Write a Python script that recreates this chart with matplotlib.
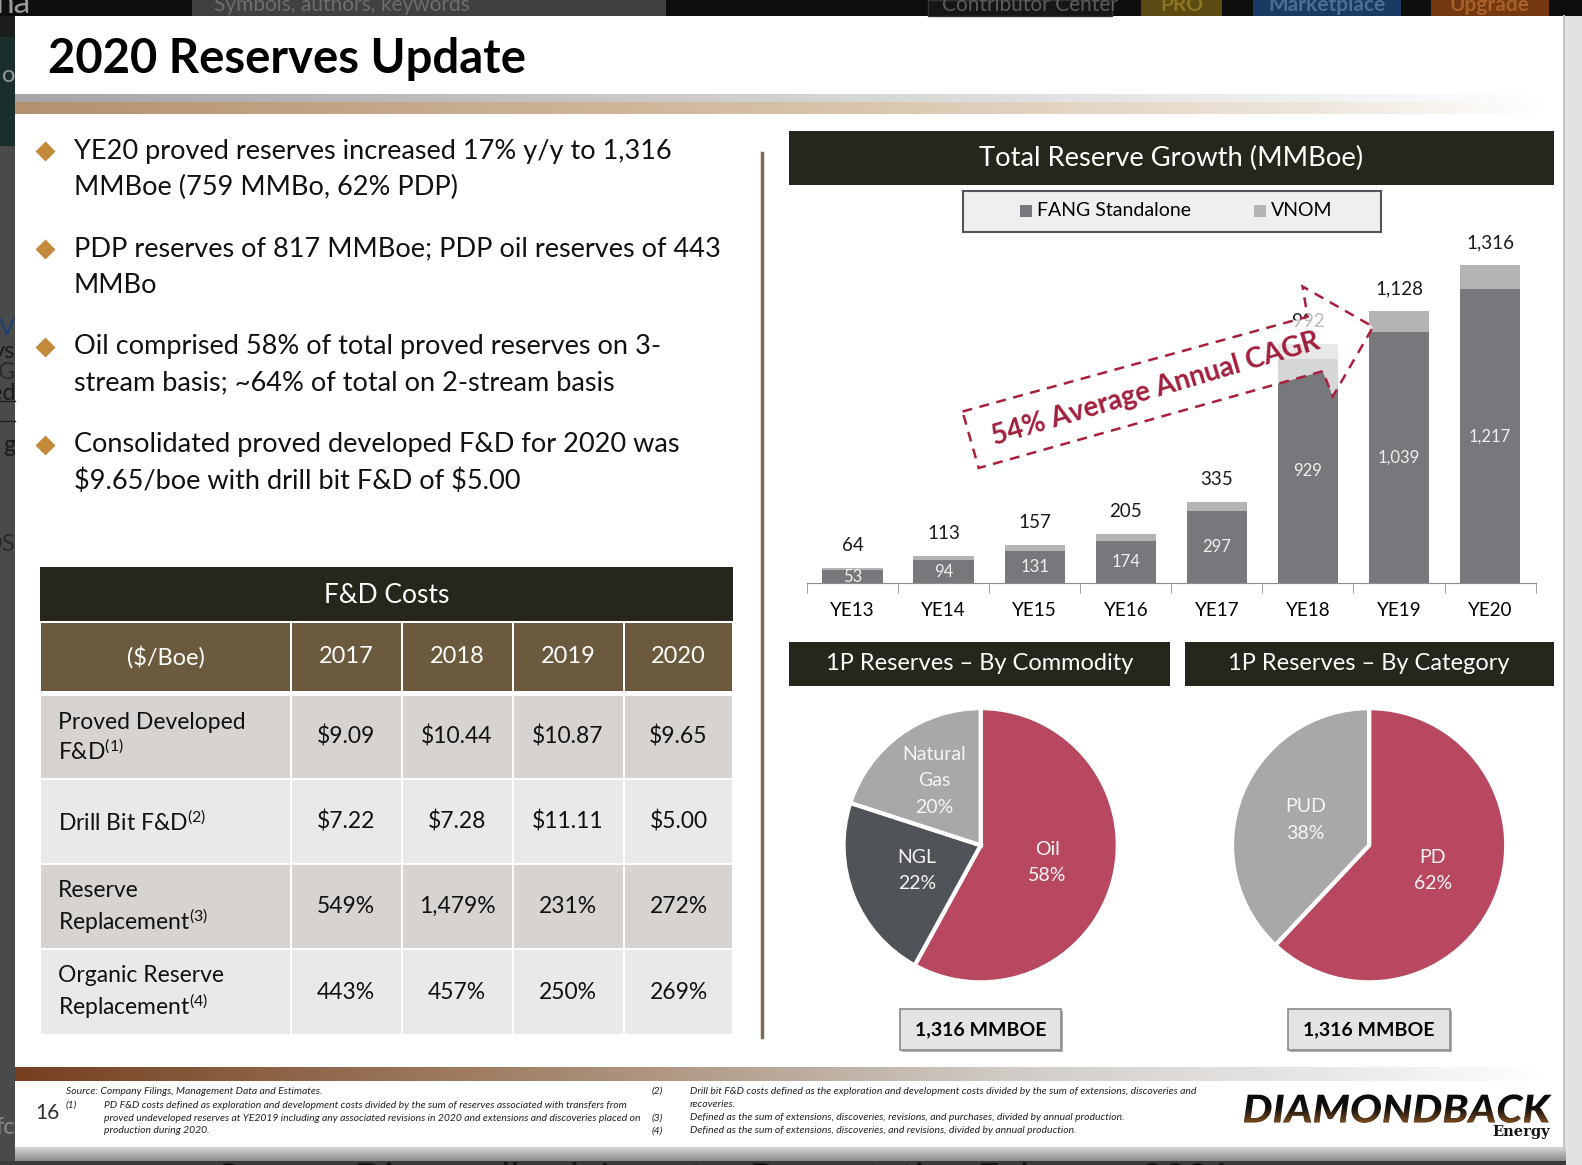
import numpy as np
import matplotlib.pyplot as plt
from matplotlib.patches import Rectangle, Polygon, PathPatch
from matplotlib.textpath import TextPath
from matplotlib.font_manager import FontProperties
from matplotlib.transforms import Affine2D

plt.rcParams['font.family'] = ['Lato', 'DejaVu Sans']
plt.rcParams['mathtext.fontset'] = 'custom'
plt.rcParams['mathtext.rm'] = 'Lato'
plt.rcParams['mathtext.it'] = 'Lato:italic'
plt.rcParams['mathtext.bf'] = 'Lato:bold'

# ---- data ----
years = ['YE13', 'YE14', 'YE15', 'YE16', 'YE17', 'YE18', 'YE19', 'YE20']
fang = [53, 94, 131, 174, 297, 929, 1039, 1217]
total = [64, 113, 157, 205, 335, 992, 1128, 1316]
vnom = [t - f for t, f in zip(total, fang)]
cagr_label = '54% Average Annual CAGR'

commodity = ['Oil', 'NGL', 'Natural\nGas']
commodity_pct = [58, 22, 20]
category = ['PD', 'PUD']
category_pct = [62, 38]
total_mmboe = 1316

fd_years = ['2017', '2018', '2019', '2020']
fd_rows = ['Proved Developed\nF&D$^{(1)}$', 'Drill Bit F&D$^{(2)}$',
           'Reserve\nReplacement$^{(3)}$', 'Organic Reserve\nReplacement$^{(4)}$']
pd_fd = [9.09, 10.44, 10.87, 9.65]
drill_bit_fd = [7.22, 7.28, 11.11, 5.00]
reserve_repl = [549, 1479, 231, 272]
organic_repl = [443, 457, 250, 269]

bullets = [
    ('YE20 proved reserves increased 17% y/y to 1,316', 'MMBoe (759 MMBo, 62% PDP)'),
    ('PDP reserves of 817 MMBoe; PDP oil reserves of 443', 'MMBo'),
    ('Oil comprised 58% of total proved reserves on 3-', 'stream basis; ~64% of total on 2-stream basis'),
    ('Consolidated proved developed F&D for 2020 was', r'\$9.65/boe with drill bit F&D of \$5.00'),
]

notes_left = [
    'PD F&D costs defined as exploration and development costs divided by the sum of reserves associated with transfers from',
    'proved undeveloped reserves at YE2019 including any associated revisions in 2020 and extensions and discoveries placed on',
    'production during 2020.',
]
notes_right = [
    'Drill bit F&D costs defined as the exploration and development costs divided by the sum of extensions, discoveries and',
    'recoveries.',
    'Defined as the sum of extensions, discoveries, revisions, and purchases, divided by annual production.',
    'Defined as the sum of extensions, discoveries, and revisions, divided by annual production.',
]

# ---- canvas (coordinates in reference pixels) ----
W, H = 1568, 1155
fig = plt.figure(figsize=(15.82, 11.65), dpi=100)
bg = fig.add_axes([0, 0, 1, 1])
bg.axis('off')


def inset(x0, y0, x1, y1, **kw):
    return fig.add_axes([x0 / W, 1 - y1 / H, (x1 - x0) / W, (y1 - y0) / H], **kw)


def box(x0, y0, x1, y1, color, ax=bg, **kw):
    ax.add_patch(Rectangle((x0, y0), x1 - x0, y1 - y0, facecolor=color, **kw))


def grad(x0, y0, x1, y1, stops, vertical=False):
    t = np.linspace(0, 1, 300)
    img = np.zeros((1, 300, 3))
    for c in range(3):
        img[0, :, c] = np.interp(t, [s[0] for s in stops], [s[1][c] for s in stops]) / 255
    if vertical:
        img = img.transpose(1, 0, 2)
    bg.imshow(img, extent=(x0, x1, y1, y0), aspect='auto', interpolation='bilinear', zorder=1)


# screen frame around the slide
box(0, 0, W, 16, '#0e0e0e')
box(190, 0, 660, 16, '#404040')
box(920, 0, 1102, 16, '#161616', edgecolor='#333333', lw=1)
box(1131, 0, 1211, 16, '#5b4a12')
box(1242, 0, 1389, 16, '#1b3a63')
box(1418, 0, 1535, 16, '#73380f')
box(0, 16, 15, 37, '#1c1c1c')
box(0, 37, 15, 145, '#1a2e2c')
box(0, 145, 15, H, '#4a4a4a')
bg.plot([0, 15], [398, 398], color='#222222', lw=1)
bg.plot([0, 15], [417, 417], color='#222222', lw=1)
box(1550, 16, W, H, '#e2e2e2')
bg.plot([1550, 1550], [16, 1138], color='#c4c4c4', lw=1.5)
grad(15, 1138, 1552, 1151, [(0, (215, 215, 215)), (1, (140, 140, 140))], vertical=True)
box(0, 1151, 1552, H, '#3a3a3a')

ts = inset(0, 0, W, 16)
ts.set_xlim(0, W); ts.set_ylim(16, 0); ts.axis('off')
for x, s, c, ha in [(212, 'Symbols, authors, keywords', '#6e6e6e', 'left'),
                    (934, 'Contributor Center', '#5c5c5c', 'left'),
                    (1171, 'PRO', '#8c7622', 'center'),
                    (1315, 'Marketplace', '#4c6d96', 'center'),
                    (1476, 'Upgrade', '#a8602a', 'center')]:
    ts.text(x, 11, s, color=c, fontsize=15, ha=ha, va='baseline', clip_on=True,
            fontweight='normal' if ha == 'left' else 'bold')
ts.text(-4, 13, 'na', color='#9a9a9a', fontsize=24, va='baseline', clip_on=True)

ls = inset(0, 16, 15, H)
ls.set_xlim(0, 15); ls.set_ylim(H, 16); ls.axis('off')
for y, s, c in [(75, 'o', '#9a9a9a'), (326, 'V', '#1c3f7a'), (348, 'ys', '#1a1a1a'),
                (369, 'G', '#2a2a2a'), (390, 'ed', '#1a1a1a'), (442, 'g', '#1a1a1a'),
                (540, 'DS', '#2a2a2a'), (1118, 'fc', '#8a8a8a')]:
    ls.text(15, y, s, color=c, fontsize=17, ha='right', va='center', clip_on=True)

bs = inset(0, 1151, 1552, H)
bs.set_xlim(0, 1552); bs.set_ylim(H, 1151); bs.axis('off')
bs.text(215, 1152, 'Source: Diamondback Investor Presentation February 2021', color='#151515',
        fontsize=28, va='top', clip_on=True)

# title and header band
bg.text(48, 58, '2020 Reserves Update', fontsize=34, fontweight='bold', color='black', va='center')
grad(15, 94, 1530, 102, [(0, (165, 165, 165)), (0.6, (218, 218, 218)), (1, (255, 255, 255))])
grad(15, 102, 1530, 113, [(0, (180, 145, 110)), (0.5, (214, 192, 165)), (0.85, (238, 230, 220)),
                          (1, (255, 255, 255))])

# bullets
for i, (l1, l2) in enumerate(bullets):
    y = 150 + i * 97
    bg.plot(45, y, marker='D', ms=10, color='#c48a3c', mec='none')
    bg.text(73, y, l1, fontsize=19.5, va='center', color='#111111')
    bg.text(73, y + 36, l2, fontsize=19.5, va='center', color='#111111')

bg.plot([755, 755], [152, 1028], color='#7b6d5a', lw=2.5)

# F&D cost table
col_x = [40, 288, 398, 508, 618, 727]
row_y = [(690, 771), (773, 856), (858, 940), (942, 1025)]
row_colors = ['#d6d3d0', '#ebe9e7', '#d6d3d0', '#ebe9e7']
row_vals = [[f'\\${v:.2f}' for v in pd_fd], [f'\\${v:.2f}' for v in drill_bit_fd],
            [f'{v:,}%' for v in reserve_repl], [f'{v:,}%' for v in organic_repl]]

box(40, 562, 727, 616, '#27261d')
bg.text((40 + 727) / 2, 590, 'F&D Costs', color='white', fontsize=19, ha='center', va='center')
header = [r'(\$/Boe)'] + fd_years
for j, h in enumerate(header):
    box(col_x[j] + 1, 618, col_x[j + 1] - 1, 685, '#6b5a3e')
    bg.text((col_x[j] + col_x[j + 1]) / 2, 651, h, color='white', fontsize=17, ha='center', va='center')
for r, (label, vals) in enumerate(zip(fd_rows, row_vals)):
    y0, y1 = row_y[r]
    for j in range(5):
        box(col_x[j] + 1, y0, col_x[j + 1] - 1, y1, row_colors[r])
    bg.text(57, (y0 + y1) / 2 + 1, label, fontsize=16.5, ha='left', va='center', color='#111111',
            linespacing=1.22)
    for j, v in enumerate(vals):
        bg.text((col_x[j + 1] + col_x[j + 2]) / 2, (y0 + y1) / 2, v, fontsize=16.5, ha='center',
                va='center', color='#111111')

# right side headers
box(782, 130, 1540, 183, '#27261d')
bg.text(1161, 157, 'Total Reserve Growth (MMBoe)', color='white', fontsize=19.7, ha='center', va='center')
box(954, 189, 1369, 230, '#efefef', edgecolor='#555555', lw=1.5)
box(1011, 203, 1023, 215, '#78787c')
bg.text(1028, 209, 'FANG Standalone', fontsize=14, va='center')
box(1243, 203, 1255, 215, '#b4b4b4')
bg.text(1260, 209, 'VNOM', fontsize=14, va='center')

box(782, 636, 1160, 680, '#27261d')
bg.text(971, 658, '1P Reserves \u2013 By Commodity', color='white', fontsize=17, ha='center', va='center')
box(1175, 636, 1540, 680, '#27261d')
bg.text(1357, 658, '1P Reserves \u2013 By Category', color='white', fontsize=17, ha='center', va='center')

# bar chart
bx = inset(800, 243, 1522, 578)
xs = np.arange(len(years))
bx.bar(xs, fang, width=0.665, color='#78787c')
bx.bar(xs, vnom, bottom=fang, width=0.665, color='#b4b4b4')
bx.set_xlim(-0.5, len(years) - 0.5)
bx.set_ylim(0, 1400)
for s in ['top', 'right', 'left']:
    bx.spines[s].set_visible(False)
bx.spines['bottom'].set_color('#8c8c8c')
bx.set_yticks([])
bx.set_xticks(xs)
bx.set_xticklabels(years, fontsize=13.5)
bx.tick_params(axis='x', length=0, pad=14)
bx.set_xticks(np.arange(-0.5, len(years)), minor=True)
bx.tick_params(axis='x', which='minor', length=7, color='#8c8c8c')
bx.patch.set_alpha(0)
for i, (f, t) in enumerate(zip(fang, total)):
    bx.text(i, f / 2, f'{f:,}', ha='center', va='center', color='#f0f0f0', fontsize=12)
    bx.annotate(f'{t:,}', (i, t), xytext=(0, 16), textcoords='offset points', ha='center',
                va='center', fontsize=13.5, color='#1a1a1a')


# pies
def pie_panel(rect, names, pcts, colors, dists):
    ax = inset(*rect)
    ax.pie(pcts, colors=colors, startangle=90, counterclock=False, radius=1,
           wedgeprops=dict(edgecolor='white', linewidth=3))
    ax.set_xlim(-1.03, 1.03)
    ax.set_ylim(-1.03, 1.03)
    start = 90
    for n, p, d in zip(names, pcts, dists):
        mid = np.deg2rad(start - p * 3.6 / 2)
        ax.text(d * np.cos(mid), d * np.sin(mid), f'{n}\n{p}%', ha='center', va='center',
                color='#f5f5f5', fontsize=14, linespacing=1.65)
        start -= p * 3.6
    return ax


pie_panel((832, 698, 1112, 978), commodity, commodity_pct, ['#b7485f', '#505358', '#a8a8a8'], [0.5, 0.5, 0.58])
pie_panel((1217, 698, 1497, 978), category, category_pct, ['#b7485f', '#a8a8a8'], [0.5, 0.5])

for cx in (972, 1357):
    box(cx - 78, 1002, cx + 82, 1043, '#b0b0b0')
    box(cx - 80, 1000, cx + 80, 1041, '#e4e4e4', edgecolor='#8a8a8a', lw=1.2)
    bg.text(cx, 1021, f'{total_mmboe:,} MMBOE', fontsize=14, fontweight='bold', ha='center', va='center')

# footer
grad(15, 1059, 1530, 1072, [(0, (118, 64, 32)), (0.35, (165, 135, 110)), (0.65, (208, 203, 198)),
                            (0.9, (238, 238, 238)), (1, (255, 255, 255))])
bg.text(47, 1103, '16', fontsize=15, ha='center', va='center', color='#333333')
fn = dict(fontsize=7.5, style='italic', color='#222222', va='center')
bg.text(65, 1082, 'Source: Company Filings, Management Data and Estimates.', **fn)
bg.text(65, 1096, '(1)', **fn)
for k, s in enumerate(notes_left):
    bg.text(103, 1096 + k * 12.5, s, **fn)
for k, y in zip(['(2)', '(3)', '(4)'], [1082, 1108, 1121]):
    bg.text(646, y, k, **fn)
for k, s in enumerate(notes_right):
    bg.text(684, 1082 + k * 13, s, **fn)

# logo
tp = TextPath((0, 0), 'DIAMONDBACK', size=40, prop=FontProperties(family='Lato', weight='black', style='italic'))
e = tp.get_extents()
tr = Affine2D().translate(-e.x0, -e.y0).scale(305 / e.width, -28 / e.height).translate(1233, 1113)
logo = PathPatch(tr.transform_path(tp), facecolor='#0d0d0d', edgecolor='none', zorder=3)
bg.add_patch(logo)
shade = np.zeros((100, 1, 4))
shade[:, 0, 0], shade[:, 0, 1], shade[:, 0, 2] = 0.50, 0.30, 0.12
shade[:, 0, 3] = np.clip((np.linspace(0, 1, 100) - 0.45) / 0.55, 0, 1)
im = bg.imshow(shade, extent=(1233, 1538, 1113, 1085), aspect='auto', zorder=4)
im.set_clip_path(logo)
bg.text(1536, 1122, 'Energy', family='DejaVu Serif', fontweight='bold', fontsize=10.5, ha='right',
        va='center', color='#111111')

bg.set_xlim(0, W)
bg.set_ylim(H, 0)

# CAGR arrow overlay
fg = fig.add_axes([0, 0, 1, 1], zorder=5)
fg.set_xlim(0, W); fg.set_ylim(H, 0); fg.axis('off')
arrow = [(954, 408), (1296, 314), (1291, 284), (1361, 324), (1321, 393), (1311, 368), (970, 464)]
fg.add_patch(Polygon(arrow, closed=True, facecolor='white', alpha=0.7, edgecolor='none'))
fg.add_patch(Polygon(arrow, closed=True, fill=False, edgecolor='#a8203c', lw=1.8, linestyle=(0, (4, 3))))
fg.text(1145, 386, cagr_label, rotation=16.5, rotation_mode='anchor', ha='center', va='center',
        color='#a31f3c', fontsize=20, fontweight='bold')

fig.savefig('out.png', dpi=100)
